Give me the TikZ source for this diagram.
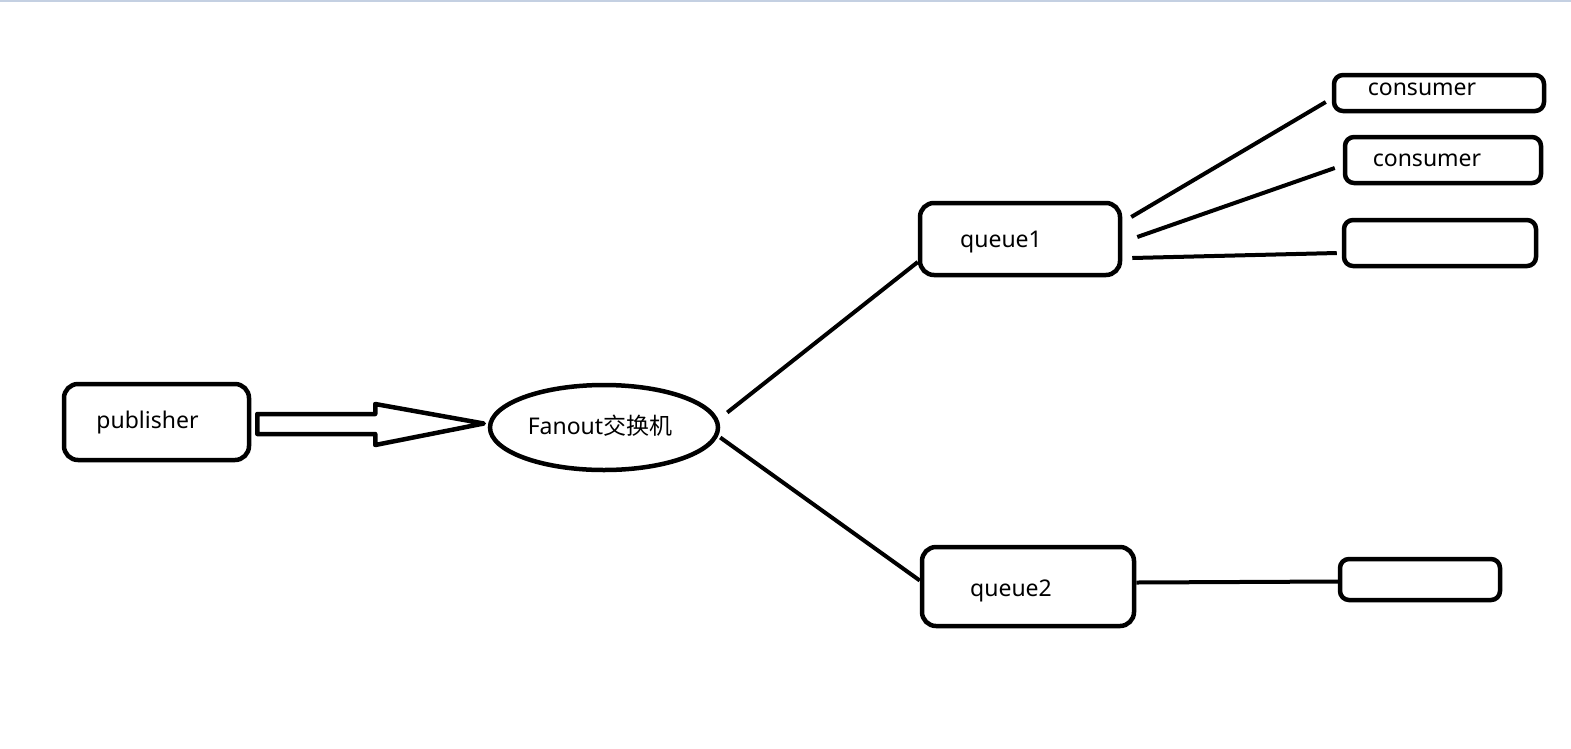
\documentclass[tikz,border=0pt]{standalone}
\usepackage{fontspec}
\setmainfont{Noto Sans}
\newfontfamily\cjk{Noto Sans CJK SC}
\usepackage{xcolor}
\usetikzlibrary{arrows, shapes.geometric, calc}
\definecolor{topline}{RGB}{196,208,226}

\begin{document}
\begin{tikzpicture}[x=1pt, y=-1pt, font=\fontsize{23pt}{28pt}\selectfont,
    box/.style={draw, line width=4.5pt, rounded corners=14pt, inner sep=0pt},
    cbox/.style={draw, line width=4.5pt, rounded corners=9pt, inner sep=0pt},
    every edge/.style={draw, line width=4pt}]
      \useasboundingbox (0,0) rectangle (1571,748);
      \draw[topline, line width=2pt] (0,1) -- (1571,1);

      \node[box, minimum width=185pt, minimum height=76pt, label={[xshift=-9pt, yshift=-1pt]center:publisher}] (pub) at (156.5,422) {};
      \node[ellipse, draw, line width=4.5pt, inner sep=0pt, minimum width=228pt, minimum height=85pt, label={[xshift=-4pt, yshift=2pt]center:Fanout{\cjk 交换机}}] (ex) at (604,427.5) {};
      \node[box, minimum width=200pt, minimum height=72pt, label={[xshift=-19pt, yshift=-3pt]center:queue1}] (q1) at (1020,239) {};
      \node[box, minimum width=212pt, minimum height=79pt, label={[xshift=-17pt, yshift=-4pt]center:queue2}] (q2) at (1028,586.5) {};
      \node[cbox, minimum width=210pt, minimum height=36pt, label={[xshift=-17pt, yshift=4pt]center:consumer}] (c1) at (1439,93) {};
      \node[cbox, minimum width=196pt, minimum height=46pt, label={[xshift=-16pt, yshift=0pt]center:consumer}] (c2) at (1443,160) {};
      \node[cbox, minimum width=192pt, minimum height=46pt] (c3) at (1440,243) {};
      \node[cbox, minimum width=160pt, minimum height=41pt] (c4) at (1420,579.5) {};

      \coordinate (tail) at ([xshift=6pt]pub.east);
      \coordinate (tip) at ([shift={(-4,-4)}]ex.west);
      \draw[line width=4.5pt, line join=round] ($(tail)+(0,-8)$) -- ++(118,0) -- ++(0,-10) -- (tip)
            -- ($(tail)+(118,23)$) -- ++(0,-11) -- ($(tail)+(0,12)$) -- cycle;

        \path ([shift={(7,-15)}]ex.east) edge ([shift={(0,23)}]q1.west)
              ([shift={(0,10)}]ex.east) edge ([shift={(0,-6)}]q2.west)
              ([shift={(9,-22)}]q1.east) edge ([shift={(-6,9)}]c1.west)
              ([shift={(15,-2)}]q1.east) edge ([shift={(-8,8)}]c2.west)
              ([shift={(10,19)}]q1.east) edge ([shift={(-5,10)}]c3.west)
              ([shift={(0,-4)}]q2.east) edge ([shift={(0,2)}]c4.west)
              ;
\end{tikzpicture}
\end{document}
